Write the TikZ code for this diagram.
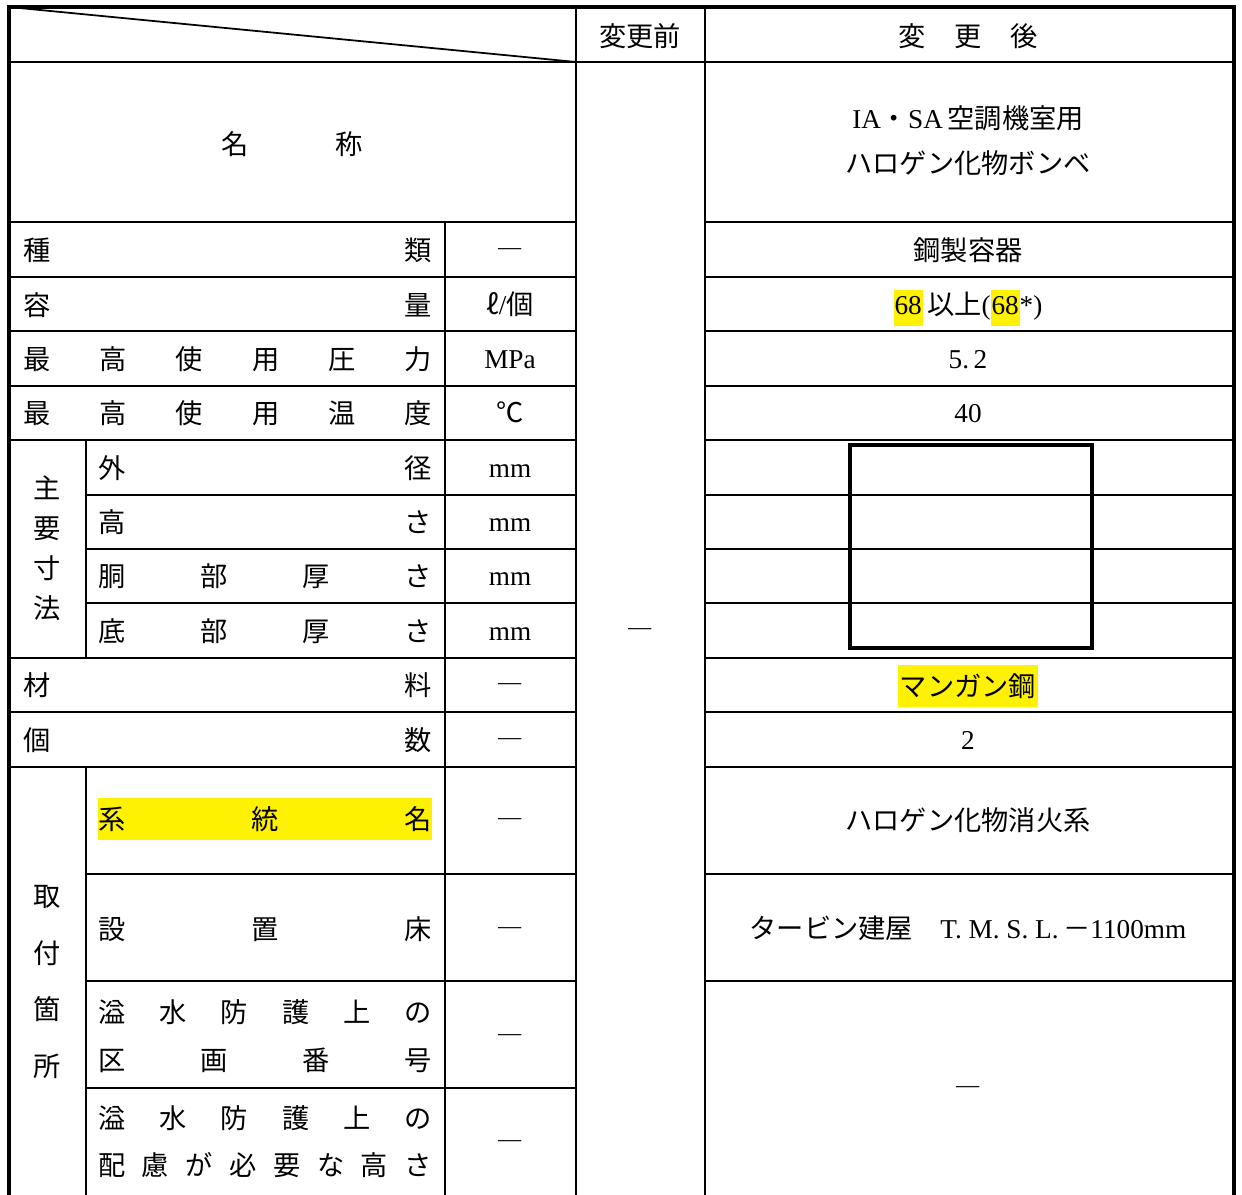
\documentclass[tikz,border=0pt]{standalone}
\usepackage{fontspec}
\setmainfont{Liberation Serif}
\newfontfamily\jpfont{Noto Sans CJK JP}
\definecolor{hlyellow}{RGB}{255,242,0}
\newcommand{\jpsize}[1]{\jpfont\fontsize{15.5}{#1}\selectfont}
\newcommand{\lat}[1]{{\rmfamily #1}}
\newcommand{\spread}[2]{\hbox to #1{#2}}
\newcommand{\hlt}[1]{{\setlength{\fboxsep}{0.5pt}\colorbox{hlyellow}{\strut #1}}}

\begin{document}
\begin{tikzpicture}[x=0.02cm,y=-0.02cm]
        \tikzstyle{every node}+=[inner sep=0pt, font=\jpsize{19}]
        \tikzstyle{cell}=[text height=13.2pt, text depth=2.2pt]
        \tikzstyle{grid}=[black, line width=1pt]
        \tikzstyle{frame}=[black, line width=1.8pt]
        \tikzstyle{hilite}=[fill=hlyellow, inner ysep=0.16cm]
        \useasboundingbox (0,0) rectangle (1242,1195);
        % outer frame
        \draw [frame] (9,1195) -- (9,7) -- (1234,7) -- (1234,1195);
        \draw [grid] (9,7) -- (576,62);
        % columns
        \draw [grid] (576,7) -- (576,1195);
        \draw [grid] (705,7) -- (705,1195);
        \draw [grid] (445,222) -- (445,1195);
        \draw [grid] (86,440) -- (86,658);
        \draw [grid] (86,767) -- (86,1195);
        % rows
        \draw [grid] (9,62) -- (1234,62);
        \draw [grid] (9,222) -- (576,222) (705,222) -- (1234,222);
        \draw [grid] (9,277) -- (576,277) (705,277) -- (1234,277);
        \draw [grid] (9,331) -- (576,331) (705,331) -- (1234,331);
        \draw [grid] (9,386) -- (576,386) (705,386) -- (1234,386);
        \draw [grid] (9,440) -- (576,440) (705,440) -- (1234,440);
        \draw [grid] (86,495) -- (576,495) (705,495) -- (1234,495);
        \draw [grid] (86,549) -- (576,549) (705,549) -- (1234,549);
        \draw [grid] (86,603) -- (576,603) (705,603) -- (1234,603);
        \draw [grid] (9,658) -- (576,658) (705,658) -- (1234,658);
        \draw [grid] (9,712) -- (576,712) (705,712) -- (1234,712);
        \draw [grid] (9,767) -- (576,767) (705,767) -- (1234,767);
        \draw [grid] (86,874) -- (576,874) (705,874) -- (1234,874);
        \draw [grid] (86,981) -- (576,981) (705,981) -- (1234,981);
        \draw [grid] (86,1088) -- (576,1088);
        % masked dimensions
        \draw [black, line width=2.8pt] (850,445) rectangle (1092,648);
        % header
        \node (hdrBefore) at (640,36) {変更前};
        \node (hdrAfter) at (968,36) {\spread{2.8cm}{変\hfill 更\hfill 後}};
        \node (nameLbl) at (292,144) {\spread{2.82cm}{名\hfill 称}};
        \node (nameVal) [align=center, font=\jpsize{25.6pt}] at (968,141)
              {\lat{IA}・\lat{SA}\,空調機室用\\ハロゲン化物ボンベ};
        % labels
        \node (kindLbl) at (227.5,250) {\spread{8.18cm}{種\hfill 類}};
        \node (capLbl) at (227.5,305) {\spread{8.18cm}{容\hfill 量}};
        \node (presLbl) at (227.5,359) {\spread{8.18cm}{最\hfill 高\hfill 使\hfill 用\hfill 圧\hfill 力}};
        \node (tempLbl) at (227.5,413) {\spread{8.18cm}{最\hfill 高\hfill 使\hfill 用\hfill 温\hfill 度}};
        \node (dimLbl) [align=center, font=\jpsize{22.8pt}] at (47,548) {主\\要\\寸\\法};
        \node (odLbl) at (265,468) {\spread{6.68cm}{外\hfill 径}};
        \node (htLbl) at (265,522) {\spread{6.68cm}{高\hfill さ}};
        \node (shellLbl) at (265,576) {\spread{6.68cm}{胴\hfill 部\hfill 厚\hfill さ}};
        \node (bottomLbl) at (265,631) {\spread{6.68cm}{底\hfill 部\hfill 厚\hfill さ}};
        \node (matLbl) at (227.5,685) {\spread{8.18cm}{材\hfill 料}};
        \node (numLbl) at (227.5,740) {\spread{8.18cm}{個\hfill 数}};
        \node (locLbl) [align=center, font=\jpsize{32.4pt}] at (47,982) {取\\付\\箇\\所};
        \node (sysLbl) [hilite] at (265,819) {\spread{6.68cm}{系\hfill 統\hfill 名}};
        \node (floorLbl) at (265,929) {\spread{6.68cm}{設\hfill 置\hfill 床}};
        \node (zoneLbl) [align=center, font=\jpsize{27.3pt}] at (265,1036)
              {\spread{6.68cm}{溢\hfill 水\hfill 防\hfill 護\hfill 上\hfill の}\\
               \spread{6.68cm}{区\hfill 画\hfill 番\hfill 号}};
        \node (hgtLbl) [align=center, font=\jpsize{26.7pt}] at (265,1142)
              {\spread{6.68cm}{溢\hfill 水\hfill 防\hfill 護\hfill 上\hfill の}\\
               \spread{6.68cm}{配\hfill 慮\hfill が\hfill 必\hfill 要\hfill な\hfill 高\hfill さ}};
        % units
        \node (kindUnit) [cell] at (510,250) {―};
        \node (capUnit) [cell] at (510,305) {ℓ\lat{/}個};
        \node (presUnit) [cell] at (510,359) {\lat{MPa}};
        \node (tempUnit) [cell] at (510,413) {℃};
        \node (odUnit) [cell] at (510,468) {\lat{mm}};
        \node (htUnit) [cell] at (510,522) {\lat{mm}};
        \node (shellUnit) [cell] at (510,576) {\lat{mm}};
        \node (bottomUnit) [cell] at (510,631) {\lat{mm}};
        \node (matUnit) [cell] at (510,685) {―};
        \node (numUnit) [cell] at (510,740) {―};
        \node (sysUnit) [cell] at (510,820) {―};
        \node (floorUnit) [cell] at (510,929) {―};
        \node (zoneUnit) [cell] at (510,1036) {―};
        \node (hgtUnit) [cell] at (510,1142) {―};
        % before
        \node (beforeVal) [cell] at (640,630) {―};
        % after
        \node (kindVal) at (968,250) {鋼製容器};
        \node (capVal) [cell] at (968,305) {\hlt{\lat{68}}\,以上\lat{(}\hlt{\lat{68}}\lat{*)}};
        \node (presVal) [cell] at (968,359) {\lat{5.\,2}};
        \node (tempVal) [cell] at (968,413) {\lat{40}};
        \node (matVal) [hilite, inner ysep=0.16cm, inner xsep=1pt] at (968,686) {マンガン鋼};
        \node (numVal) [cell] at (968,740) {\lat{2}};
        \node (sysVal) at (968,820) {ハロゲン化物消火系};
        \node (floorVal) [cell] at (968,929) {タービン建屋\quad\lat{T.\ M.\ S.\ L.}\,－\lat{1100mm}};
        \node (zoneVal) [cell] at (968,1088) {―};
\end{tikzpicture}
\end{document}
